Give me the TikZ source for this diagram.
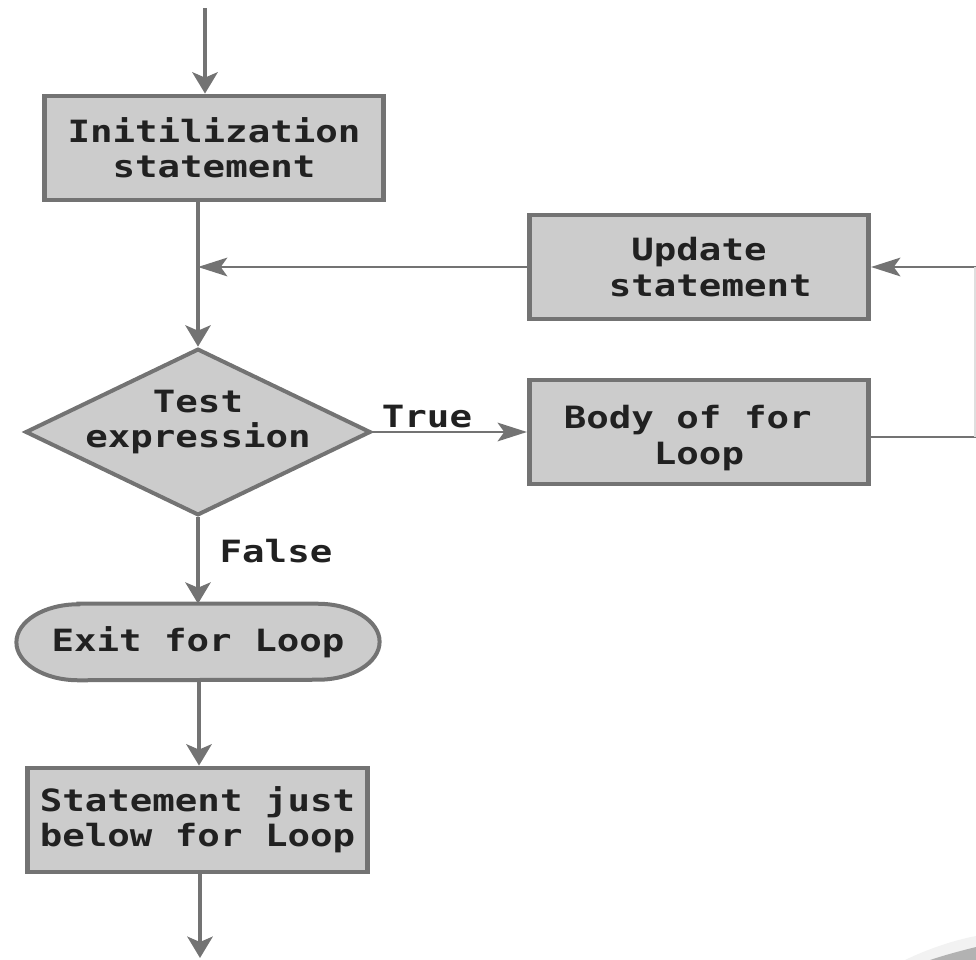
\documentclass[tikz,border=0pt]{standalone}
\usepackage{fontspec}
\usetikzlibrary{shapes.geometric,arrows.meta,backgrounds}
\newfontfamily\diagfont[FakeStretch=1.22]{DejaVu Sans Mono}
\definecolor{edgegray}{gray}{0.45}
\definecolor{fillgray}{gray}{0.80}
\definecolor{inkgray}{gray}{0.13}
\tikzset{
  txt/.style={font=\diagfont\bfseries\fontsize{23}{26.5}\selectfont,text=inkgray,align=center,inner sep=0pt},
  procbox/.style={txt,draw=edgegray,fill=fillgray,line width=3.6pt,minimum width=254.5pt,minimum height=78pt},
  decision/.style={diamond,draw=edgegray,fill=fillgray,line width=3pt,minimum width=259pt,minimum height=125pt,inner sep=0pt,aspect=2.07},
  vline/.style={draw=edgegray,line width=2.6pt,-{Stealth[length=16pt,width=19pt,inset=4pt]}},
  hline/.style={draw=edgegray,line width=1.9pt,-{Stealth[length=22pt,width=14pt,inset=5pt]}},
  plain/.style={draw=edgegray,line width=1.9pt},
}
\begin{document}
\begin{tikzpicture}[x=0.75pt,y=-0.75pt]
\useasboundingbox (0,0) rectangle (976,960);
% page corner sweep
\fill[gray!10] (905,960) .. controls (930,948) and (955,940) .. (976,936) -- (976,960) -- cycle;
\fill[gray!60!white] (930,960) .. controls (945,955) and (960,951) .. (976,947) -- (976,960) -- cycle;
% nodes
\node[procbox] (init) at (214,148) {Initilization\\statement};
\node[procbox] (update) at (699,267) {Update\\\phantom{x}statement};
\node[procbox] (body) at (699,432) {};
\node[txt] (bodytext) at (699,438) {Body of for\phantom{x}\\Loop};
\node[decision] (test) at (198,432) {};
\node[txt] (testtext) at (198,422) {Test\\expression};
\node[txt,minimum width=272pt,minimum height=57pt] (exit) at (198,642) {Exit for Loop};
\node[procbox] (below) at (197.5,820) {Statement just\\below for Loop};
\node[txt] (truelabel) at (427,417) {True};
\node[txt] (falselabel) at (276,551) {False};
\begin{scope}[on background layer]
  \draw[edgegray,fill=fillgray,line width=3pt]
    ([xshift=46.5pt]exit.north west) -- ([xshift=-46.5pt]exit.north east)
    arc[start angle=-90,end angle=90,x radius=62,y radius=38]
    -- ([xshift=46.5pt]exit.south west)
    arc[start angle=90,end angle=270,x radius=62,y radius=38] -- cycle;
\end{scope}
% free ends
\coordinate (topin) at (205,8);
\coordinate (rightup) at (976,267);
\coordinate (rightbody) at (976,437);
\coordinate (bottomout) at (200,958);
\coordinate (merge) at (198,267);
% connectors
\draw[vline] (topin) -- (topin |- init.north);
\draw[vline] (test.north |- init.south) -- (test.north);
\draw[hline] (update.west) -- (merge);
\draw[hline] (rightup) -- (update.east);
\draw[hline] (test.east) -- (body.west);
\draw[plain] (body.east |- rightbody) -- (rightbody);
\draw[draw=gray!25,line width=1pt] ([xshift=-0.8pt]rightup) -- ([xshift=-0.8pt]rightbody);
\draw[vline] (test.south) -- (test.south |- exit.north);
\draw[vline] ([xshift=0.75pt]exit.south) -- ([xshift=0.75pt]exit.south |- below.north);
\draw[vline] (bottomout |- below.south) -- (bottomout);
\end{tikzpicture}
\end{document}
